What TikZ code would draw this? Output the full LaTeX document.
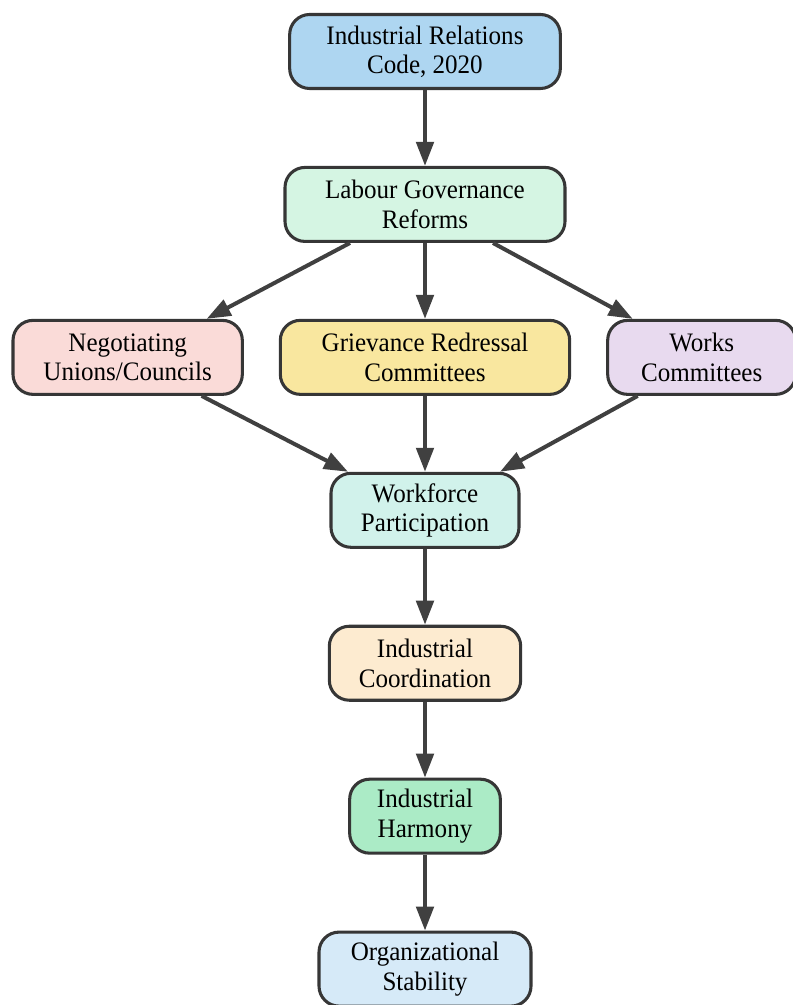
\documentclass[tikz,border=0pt]{standalone}
\usepackage{fontspec}
\setmainfont{Liberation Serif}[FakeStretch=0.94]
\usetikzlibrary{positioning,arrows.meta,calc}

\definecolor{codeBlue}{HTML}{AED6F1}
\definecolor{reformGreen}{HTML}{D5F5E3}
\definecolor{unionPink}{HTML}{FADBD8}
\definecolor{grievYellow}{HTML}{F9E79F}
\definecolor{worksPurple}{HTML}{E8DAEF}
\definecolor{partTeal}{HTML}{D1F2EB}
\definecolor{coordPeach}{HTML}{FDEBD0}
\definecolor{harmGreen}{HTML}{ABEBC6}
\definecolor{stabBlue}{HTML}{D6EAF8}
\definecolor{lineGray}{HTML}{404040}

\begin{document}
\begin{tikzpicture}[
    x=0.75pt, y=-0.75pt,
    font=\fontsize{20}{22}\selectfont,
    box/.style  ={draw=lineGray!85!black,line width=2.3pt,rounded corners=15pt,align=center,
                  minimum height=\boxH,inner sep=2pt},
    arrow/.style={-{Triangle[length=18pt,width=13pt]},line width=3pt,draw=lineGray},
]

% ---------- Parameters ----------
\def\boxH{55.5pt}   % box height
\def\gap{56.9pt}    % vertical gap between rows
\def\side{26.2pt}   % horizontal gap in middle row

\useasboundingbox (0,0) rectangle (792,1005);

% ---------- Top: code and reforms ----------
\node[box, fill=codeBlue, minimum width=203pt] (IRC) at (425,51.5) {Industrial Relations\\Code, 2020};
\node[box, fill=reformGreen, minimum width=210pt, below=\gap of IRC] (LGR) {Labour Governance\\Reforms};

% ---------- Middle row: three bodies ----------
\node[box, fill=grievYellow, minimum width=217pt, below=\gap of LGR] (GRC) {Grievance Redressal\\Committees};
\node[box, fill=unionPink, minimum width=172pt, left=\side of GRC] (NUC) {Negotiating\\Unions/Councils};
\node[box, fill=worksPurple, minimum width=141pt, right=\side of GRC] (WC) {Works\\Committees};

% ---------- Lower chain ----------
\node[box, fill=partTeal, minimum width=141pt, below=\gap of GRC] (WP) {Workforce\\Participation};
\node[box, fill=coordPeach, minimum width=143.5pt, below=\gap of WP] (IC) {Industrial\\Coordination};
\node[box, fill=harmGreen, minimum width=113pt, below=\gap of IC] (IH) {Industrial\\Harmony};
\node[box, fill=stabBlue, minimum width=159pt, below=\gap of IH] (OS) {Organizational\\Stability};

% ---------- Arrows ----------
\draw[arrow] (IRC) -- (LGR);
\draw[arrow] ($(LGR.south)+(-75,0)$) -- ($(NUC.north)+(79,0)$);
\draw[arrow] (LGR) -- (GRC);
\draw[arrow] ($(LGR.south)+(68,0)$) -- ($(WC.north)+(-69,0)$);

\draw[arrow] ($(NUC.south)+(74,0)$) -- ($(WP.north)+(-77,0)$);
\draw[arrow] (GRC) -- (WP);
\draw[arrow] ($(WC.south)+(-64,0)$) -- ($(WP.north)+(75,0)$);

\draw[arrow] (WP) -- (IC);
\draw[arrow] (IC) -- (IH);
\draw[arrow] (IH) -- (OS);

\end{tikzpicture}
\end{document}
